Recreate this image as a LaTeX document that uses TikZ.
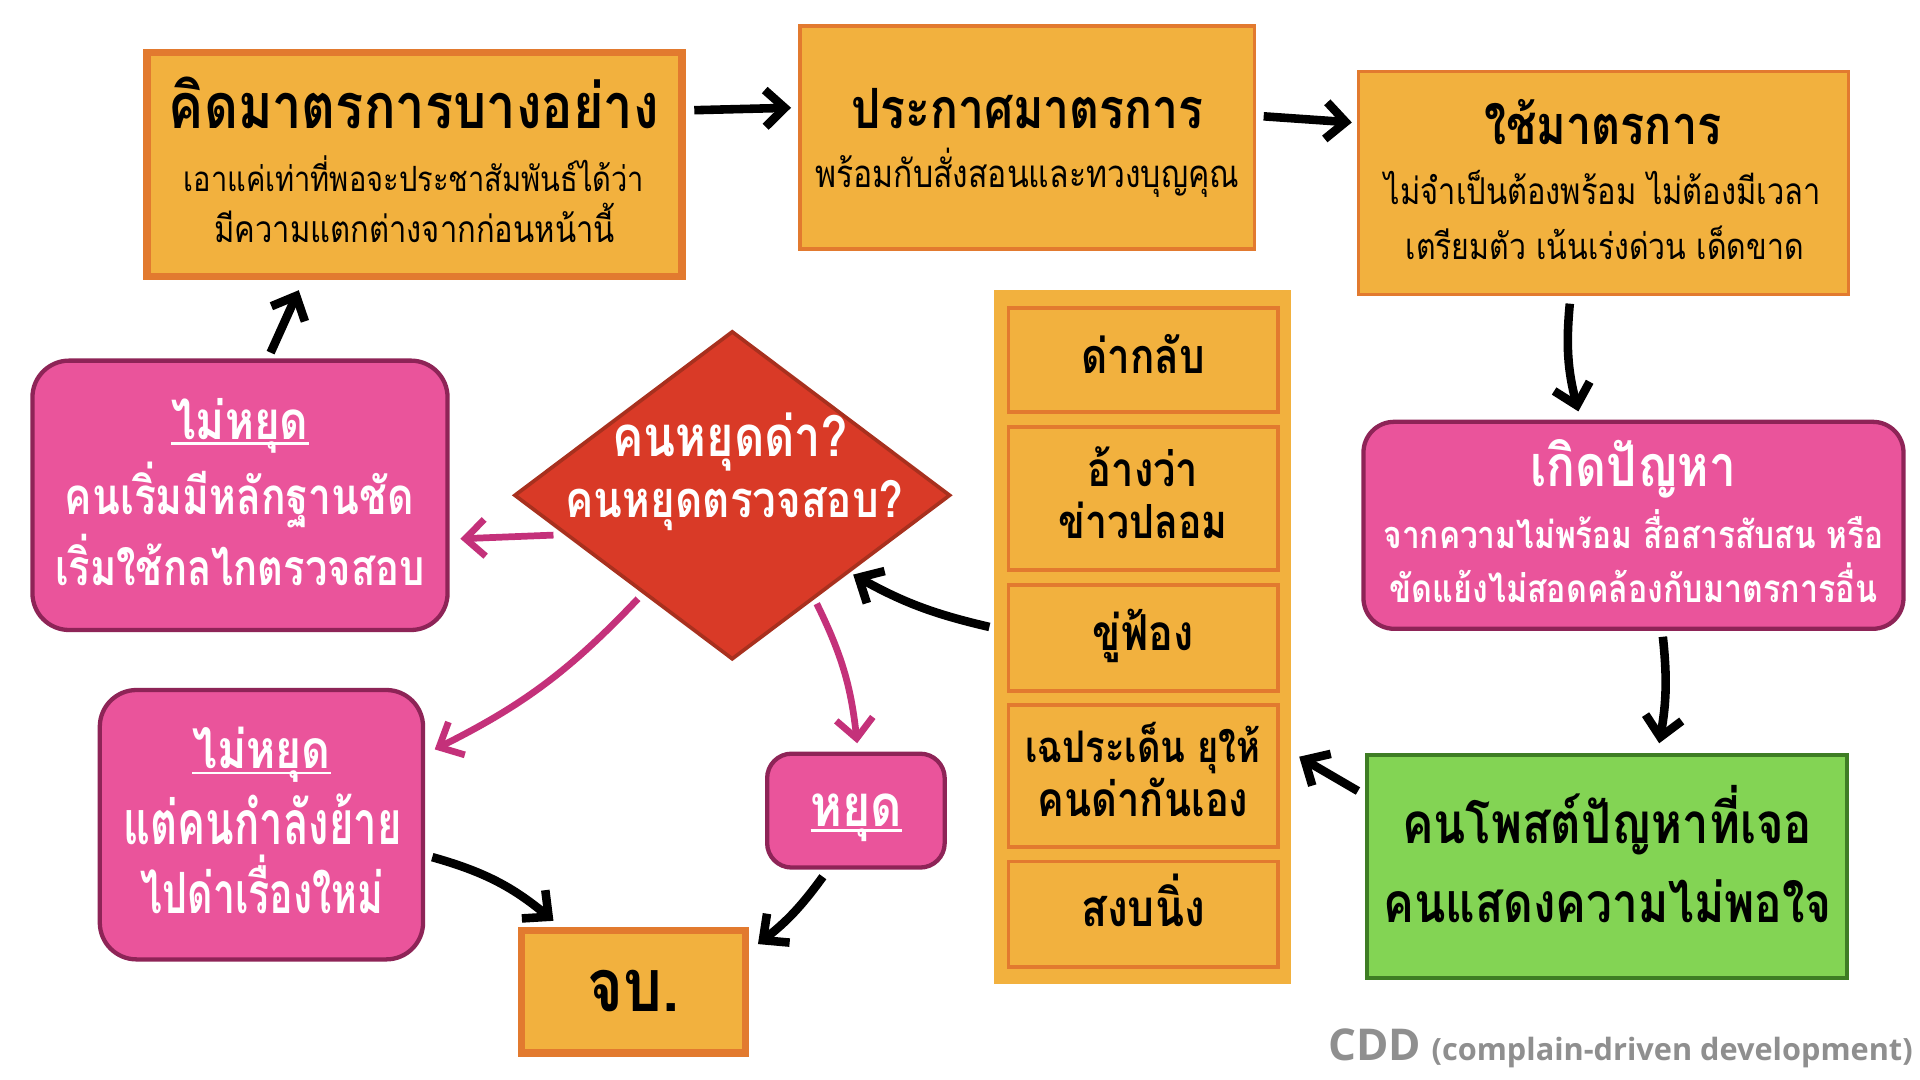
\documentclass[tikz,border=0pt]{standalone}
\usepackage{fontspec}
\usepackage{graphicx}
\usetikzlibrary{shapes.geometric,arrows.meta,calc}
\newfontfamily\thai[Script=Thai]{Loma}
\newfontfamily\latin{Open Sans}
\definecolor{ofill}{HTML}{F2B13E}
\definecolor{oline}{HTML}{E27A2F}
\definecolor{pfill}{HTML}{EA549B}
\definecolor{pline}{HTML}{8E2457}
\definecolor{rfill}{HTML}{D93A27}
\definecolor{rline}{HTML}{A8301E}
\definecolor{gfill}{HTML}{83D454}
\definecolor{gline}{HTML}{3E7D24}
\definecolor{parr}{HTML}{C4317A}
\definecolor{cddgray}{HTML}{8F8F8F}
% fit a line to a width, then stretch it vertically
\newcommand\fitv[3]{\scalebox{1}[#2]{\resizebox{#1pt}{!}{#3}}}
\newcommand\fitw[2]{\fitv{#1}{1.2}{#2}}
\newcommand\fitp[2]{\resizebox{#1pt}{!}{#2}}
\newsavebox\ulbox
\newcommand\thul[1]{\sbox\ulbox{#1}\rlap{\rule[-0.10em]{\wd\ulbox}{0.05em}}\usebox\ulbox}
\begin{document}
\begin{tikzpicture}[x=1pt,y=-1pt,
  obox/.style={rectangle, draw=oline, fill=ofill, inner sep=0, outer sep=0, line width=#1},
  obox/.default=3pt,
  pbox/.style={rectangle, rounded corners=#1, draw=pline, fill=pfill, line width=3.5pt, inner sep=0, outer sep=0},
  pbox/.default=30pt,
  gbox/.style={rectangle, draw=gline, fill=gfill, line width=3.5pt, inner sep=0, outer sep=0},
  dbox/.style={diamond, draw=rline, fill=rfill, line width=3pt, inner sep=0, outer sep=0},
  txt/.style={inner sep=0, outer sep=0, anchor=base, font=\thai},
  wtxt/.style={txt, text=white},
  barr/.style={draw=black, line width=7pt, -{Straight Barb[length=16pt,width=30pt]}},
  parrow/.style={draw=parr, line width=5.5pt, -{Straight Barb[length=16pt,width=30pt]}}
]
\fill[white] (0,0) rectangle (1568,882);
\useasboundingbox (0,0) rectangle (1568,882);

% boxes
\node[obox=6pt, minimum width=437pt, minimum height=183pt] (A) at (338.5,134.5) {};
\node[obox, minimum width=371pt, minimum height=182pt] (B) at (839,112.5) {};
\node[obox, minimum width=400pt, minimum height=182pt] (C) at (1309.5,149.5) {};
\node[pbox=25pt, minimum width=441pt, minimum height=169pt] (D) at (1334,429) {};
\node[gbox, minimum width=392pt, minimum height=182pt] (E) at (1312.5,707.5) {};
\node[fill=ofill, minimum width=242pt, minimum height=567pt, inner sep=0, outer sep=0] (col) at (933,520.5) {};
\node[obox, minimum width=220pt, minimum height=85pt] (c1) at (933.5,294) {};
\node[obox, minimum width=220pt, minimum height=117pt] (c2) at (933.5,407) {};
\node[obox, minimum width=220pt, minimum height=87pt] (c3) at (933.5,521) {};
\node[obox, minimum width=220pt, minimum height=116pt] (c4) at (933.5,633.5) {};
\node[obox, minimum width=220pt, minimum height=86pt] (c5) at (933.5,746.5) {};
\node[dbox, minimum width=355pt, minimum height=267pt] (dia) at (598,404.5) {};
\node[pbox, minimum width=339pt, minimum height=220pt] (F) at (196,404.5) {};
\node[pbox, minimum width=264pt, minimum height=220pt] (G) at (213.5,673.5) {};
\node[pbox=20pt, minimum width=145pt, minimum height=93pt] (H) at (699,662) {};
\node[obox=6pt, minimum width=183pt, minimum height=100pt] (I) at (517.5,810) {};

% texts
\node[txt] (At) at (338,105) {\fitw{400}{\bfseries คิดมาตรการบางอย่าง}};
\node[txt] (As1) at (338,156) {\fitw{376}{เอาแค่เท่าที่พอจะประชาสัมพันธ์ได้ว่า}};
\node[txt] (As2) at (338.5,198) {\fitw{327}{มีความแตกต่างจากก่อนหน้านี้}};

\node[txt] (Bt) at (839,105) {\fitw{288}{\bfseries ประกาศมาตรการ}};
\node[txt] (Bs1) at (839,153) {\fitw{346}{พร้อมกับสั่งสอนและทวงบุญคุณ}};

\node[txt] (Ct) at (1309,118) {\fitw{194}{\bfseries ใช้มาตรการ}};
\node[txt] (Cs1) at (1309,167) {\fitw{356}{ไม่จำเป็นต้องพร้อม ไม่ต้องมีเวลา}};
\node[txt] (Cs2) at (1310.5,212) {\fitw{325}{เตรียมตัว เน้นเร่งด่วน เด็ดขาด}};

\node[wtxt] (Dt) at (1334,397) {\fitw{168}{\bfseries เกิดปัญหา}};
\node[wtxt] (Ds1) at (1334,448) {\fitw{408}{\bfseries จากความไม่พร้อม สื่อสารสับสน หรือ}};
\node[wtxt] (Ds2) at (1334,492) {\fitw{398}{\bfseries ขัดแย้งไม่สอดคล้องกับมาตรการอื่น}};

\node[txt] (Et1) at (1312.5,689) {\fitw{335}{\bfseries คนโพสต์ปัญหาที่เจอ}};
\node[txt] (Et2) at (1313,753) {\fitw{366}{\bfseries คนแสดงความไม่พอใจ}};

\node[wtxt] (dt1) at (596,373) {\fitw{192}{\bfseries คนหยุดด่า?}};
\node[wtxt] (dt2) at (599.5,423) {\fitw{275}{\bfseries คนหยุดตรวจสอบ?}};

\node[wtxt] (Ft) at (196,359) {\fitw{112}{\bfseries\thul{ไม่หยุด}}};
\node[wtxt] (Fs1) at (195.5,420) {\fitv{285}{1.25}{\bfseries คนเริ่มมีหลักฐานชัด}};
\node[wtxt] (Fs2) at (196,478) {\fitv{302}{1.25}{\bfseries เริ่มใช้กลไกตรวจสอบ}};

\node[wtxt] (Gt) at (213.5,628) {\fitw{113}{\bfseries\thul{ไม่หยุด}}};
\node[wtxt] (Gs1) at (214.5,690) {\fitv{227}{1.45}{\bfseries แต่คนกำลังย้าย}};
\node[wtxt] (Gs2) at (214,746) {\fitv{198}{1.45}{\bfseries ไปด่าเรื่องใหม่}};

\node[wtxt] (Ht) at (699.5,675) {\fitw{75}{\bfseries\thul{หยุด}}};
\node[txt] (It) at (517.5,826) {\fitw{75}{\bfseries จบ.}};

\node[txt] (c1t) at (933.5,305) {\fitw{101}{\bfseries ด่ากลับ}};
\node[txt] (c2t) at (933.5,397) {\fitw{90}{\bfseries อ้างว่า}};
\node[txt] (c2s) at (933.5,440) {\fitw{138}{\bfseries ข่าวปลอม}};
\node[txt] (c3t) at (933.5,531) {\fitw{82}{\bfseries ขู่ฟ้อง}};
\node[txt] (c4t) at (933.5,623) {\fitw{192}{\bfseries เฉประเด็น ยุให้}};
\node[txt] (c4s) at (933.5,667) {\fitw{172}{\bfseries คนด่ากันเอง}};
\node[txt] (c5t) at (933.5,757) {\fitw{101}{\bfseries สงบนิ่ง}};

\node[inner sep=0, outer sep=0, anchor=base east, text=cddgray, font=\latin\bfseries] (cdd) at (1562,866)
  {\fitp{477}{{\fontsize{30}{30}\selectfont CDD}\hspace{7pt}{\fontsize{21}{21}\selectfont (complain-driven development)}}};

% black arrows
\draw[barr] ($(A.north east)+(10,47)$) -- ($(B.north west)+(-7.5,66.5)$);
\draw[barr] ($(B.north east)+(7.5,73.5)$) -- ($(C.north west)+(-5.5,41.5)$);
\draw[barr] ($(C.south)+(-27.5,7.5)$) to[bend right=10] ($(D.north)+(-45,-8.5)$);
\draw[barr] ($(D.south)+(24,6.5)$) to[bend left=8] ($(E.north)+(42.5,-9.5)$);
\draw[barr] ($(E.north west)+(-7.5,29.5)$) -- ($(c4.east)+(17.5,-15.5)$);
\draw[barr] ($(col.west)+(-4,-8.5)$) to[bend left=8] ($(dia.south east)+(10,-2)$);
\draw[barr] ($(F.north)+(25,-6.5)$) -- ($(A.south)+(-94.5,11)$);
\draw[barr] ($(G.east)+(7.5,26.5)$) to[bend left=12] ($(I.north west)+(26,-8)$);
\draw[barr] ($(H.south)+(-27,7.5)$) to[bend left=8] ($(I.north east)+(10,11)$);

% pink arrows
\draw[parrow] ($(dia.west)+(31.5,32.5)$) -- ($(F.east)+(10.5,35.5)$);
\draw[parrow] ($(dia.south west)+(11.75,17.75)$) to[bend left=10] ($(G.north east)+(9.5,48.5)$);
\draw[parrow] ($(dia.south east)+(-19.75,21.75)$) to[bend left=10] ($(H.north)+(1,-8.5)$);
\end{tikzpicture}
\end{document}
